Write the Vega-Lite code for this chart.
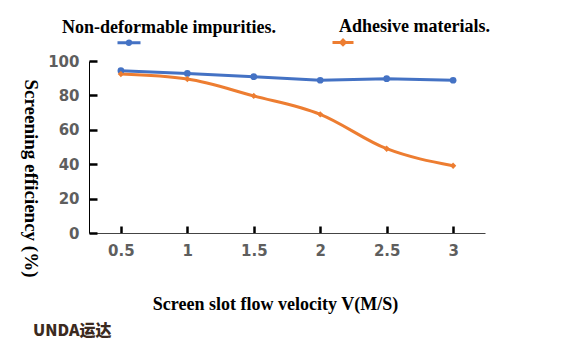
{
  "$schema": "https://vega.github.io/schema/vega-lite/v6.json",
  "width": 396,
  "height": 172,
  "autosize": "none",
  "padding": {"left": 89, "top": 61, "right": 84, "bottom": 124},
  "background": "white",
  "config": {"view": {"stroke": null}},
  "title": {"text": "UNDA运达", "orient": "bottom", "anchor": "start", "frame": "group", "dx": -56, "offset": 10, "font": "Noto Sans CJK SC", "fontSize": 16, "fontWeight": 900, "color": "#3b2a20"},
  "data": {"values": [
    {"v": 0.5, "eff": 94.4, "series": "Non-deformable impurities."},
    {"v": 1, "eff": 92.8, "series": "Non-deformable impurities."},
    {"v": 1.5, "eff": 90.9, "series": "Non-deformable impurities."},
    {"v": 2, "eff": 88.8, "series": "Non-deformable impurities."},
    {"v": 2.5, "eff": 89.7, "series": "Non-deformable impurities."},
    {"v": 3, "eff": 88.8, "series": "Non-deformable impurities."},
    {"v": 0.5, "eff": 92.4, "series": "Adhesive materials."},
    {"v": 1, "eff": 89.5, "series": "Adhesive materials."},
    {"v": 1.5, "eff": 79.7, "series": "Adhesive materials."},
    {"v": 2, "eff": 69.0, "series": "Adhesive materials."},
    {"v": 2.5, "eff": 49.0, "series": "Adhesive materials."},
    {"v": 3, "eff": 39.1, "series": "Adhesive materials."}
  ]},
  "encoding": {
    "x": {"field": "v", "type": "quantitative", "scale": {"domain": [0.26, 3.24], "nice": false, "zero": false},
      "axis": {"values": [0.5, 1, 1.5, 2, 2.5, 3], "format": "~g", "grid": false,
        "domainColor": "#444444", "domainWidth": 1, "tickColor": "#000000", "tickWidth": 2.5, "tickSize": -7,
        "labelFont": "DejaVu Sans", "labelFontWeight": "bold", "labelFontSize": 15, "labelColor": "#5e5e5e", "labelPadding": 17,
        "title": "Screen slot flow velocity V(M/S)", "titleFont": "Liberation Serif", "titleFontWeight": "bold", "titleFontSize": 18, "titleColor": "#000000",
        "titleX": 186, "titleY": 76, "titleBaseline": "alphabetic", "titleAlign": "center"}},
    "y": {"field": "eff", "type": "quantitative", "scale": {"domain": [0, 100], "nice": false},
      "axis": {"values": [0, 20, 40, 60, 80, 100], "grid": false,
        "domainColor": "#000000", "domainWidth": 1, "tickColor": "#000000", "tickWidth": 2.5, "tickSize": -8,
        "labelFont": "DejaVu Sans", "labelFontWeight": "bold", "labelFontSize": 15, "labelColor": "#5e5e5e", "labelPadding": 18,
        "title": "Screening efficiency (%)", "titleFont": "Liberation Serif", "titleFontWeight": "bold", "titleFontSize": 19, "titleColor": "#000000",
        "titleAngle": 90, "titleX": -65, "titleY": 117, "titleBaseline": "alphabetic", "titleAlign": "center"}}
  },
  "layer": [
    {"mark": {"type": "point", "filled": true, "opacity": 0},
     "encoding": {
       "color": {"field": "series", "type": "nominal",
         "scale": {"domain": ["Non-deformable impurities.", "Adhesive materials."], "range": ["#4472C4", "#ED7D31"]},
         "legend": {"orient": "none", "legendX": 31, "legendY": -43, "direction": "horizontal", "title": null,
           "symbolSize": 100, "symbolOpacity": 1, "symbolStrokeWidth": 3, "labelAlign": "right", "labelOffset": 138,
           "labelFont": "Liberation Serif", "labelFontWeight": "bold", "labelFontSize": 18, "labelColor": "#000000", "labelLimit": 0, "columnPadding": 50}},
       "shape": {"field": "series", "type": "nominal",
         "scale": {"domain": ["Non-deformable impurities.", "Adhesive materials."],
           "range": ["M-2.3,3H2.3 M-0.35,3A0.35,0.35 0 1,0 0.35,3A0.35,0.35 0 1,0 -0.35,3Z", "M-2.1,3H2.1 M0,2.55L0.45,3L0,3.45L-0.45,3Z"]},
         "legend": {"orient": "none", "legendX": 31, "legendY": -43, "direction": "horizontal", "title": null,
           "symbolSize": 100, "symbolOpacity": 1, "symbolStrokeWidth": 3, "labelAlign": "right", "labelOffset": 138,
           "labelFont": "Liberation Serif", "labelFontWeight": "bold", "labelFontSize": 18, "labelColor": "#000000", "labelLimit": 0, "columnPadding": 50}}
     }},
    {"transform": [{"filter": "datum.series === 'Non-deformable impurities.'"}],
     "mark": {"type": "line", "strokeWidth": 3},
     "encoding": {"color": {"field": "series", "type": "nominal"}}},
    {"transform": [{"filter": "datum.series === 'Adhesive materials.'"}],
     "mark": {"type": "line", "strokeWidth": 3, "interpolate": "monotone"},
     "encoding": {"color": {"field": "series", "type": "nominal"}}},
    {"transform": [{"filter": "datum.series === 'Non-deformable impurities.'"}],
     "mark": {"type": "point", "shape": "circle", "filled": true, "size": 45, "opacity": 1},
     "encoding": {"color": {"field": "series", "type": "nominal"}}},
    {"transform": [{"filter": "datum.series === 'Adhesive materials.'"}],
     "mark": {"type": "point", "shape": "diamond", "filled": true, "size": 40, "opacity": 1},
     "encoding": {"color": {"field": "series", "type": "nominal"}}}
  ]
}
